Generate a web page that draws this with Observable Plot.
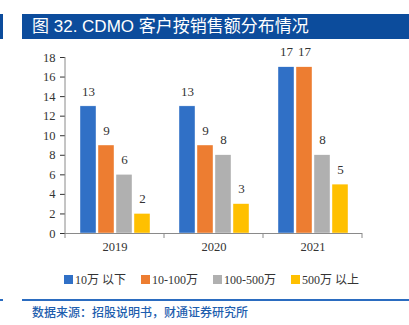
<!DOCTYPE html>
<html><head><meta charset="utf-8">
<script src="https://cdn.jsdelivr.net/npm/d3@7"></script>
<script src="https://cdn.jsdelivr.net/npm/@observablehq/plot@0.6"></script>
<style>
html,body{margin:0;padding:0;background:#fff;}
#wrap{position:relative;width:409px;height:325px;overflow:hidden;}
.blue{position:absolute;background:#0C4C9C;}
#title{position:absolute;left:22px;top:14px;width:387px;height:25px;background:#0C4C9C;color:#fff;
 font-family:"Liberation Sans",Arial,"Noto Sans CJK SC",sans-serif;font-size:17px;line-height:25px;padding-left:10px;box-sizing:border-box;white-space:nowrap;}
#chart{position:absolute;left:0;top:45px;}
#legend{position:absolute;left:64px;top:270px;display:flex;align-items:center;font-family:"Liberation Serif","Times New Roman","Noto Sans CJK SC",serif;font-size:12px;color:#333;white-space:nowrap;}
#legend .item{display:flex;align-items:center;margin-right:15px;}
#legend .sw{width:9px;height:9px;margin-right:2px;}
#source{position:absolute;left:32px;top:303px;font-family:"Noto Sans CJK SC",sans-serif;font-size:12px;color:#1E5EAE;font-weight:500;white-space:nowrap;}
</style>
</head><body>
<div id="wrap">
 <div class="blue" style="left:0;top:14px;width:3px;height:25px;"></div>
 <div id="title">图 32. CDMO 客户按销售额分布情况</div>
 <div id="chart"></div>
 <div id="legend"></div>
 <div class="blue" style="left:0;top:299px;width:3px;height:1.5px;background:#2B6CC0;"></div>
 <div class="blue" style="left:22px;top:299px;width:387px;height:1.5px;background:#2B6CC0;"></div>
 <div id="source">数据来源：招股说明书，财通证券研究所</div>
</div>
<script>
const years = ["2019", "2020", "2021"];
const series = ["10万 以下", "10-100万", "100-500万", "500万 以上"];
const colors = ["#3070C6", "#ED7D31", "#B0B0B0", "#FFC000"];
const vUnder10 = [13, 13, 17];
const v10to100 = [9, 9, 17];
const v100to500 = [6, 8, 8];
const vOver500 = [2, 3, 5];
const yTicks = [0, 2, 4, 6, 8, 10, 12, 14, 16, 18];

const seriesValues = [vUnder10, v10to100, v100to500, vOver500];
const data = [];
years.forEach((yr, i) => series.forEach((s, j) => data.push({year: yr, series: s, value: seriesValues[j][i]})));

const plot = Plot.plot({
  width: 409, height: 215,
  marginLeft: 64, marginRight: 46, marginTop: 12, marginBottom: 27,
  style: {fontFamily: '"Liberation Serif","Times New Roman",serif', fontSize: "12.5px", color: "#333", background: "transparent"},
  fx: {domain: years, padding: 0, label: null, tickSize: 0, tickPadding: 9},
  x: {domain: series, paddingInner: 0.12, paddingOuter: 0.78, axis: null},
  y: {domain: [0, 18], ticks: yTicks, label: null, tickSize: 5, tickPadding: 5},
  color: {domain: series, range: colors},
  marks: [
    Plot.barY(data, {fx: "year", x: "series", y: "value", fill: "series", stroke: "#fff", strokeWidth: 0.4}),
    Plot.text(data, {fx: "year", x: "series", y: "value", text: d => String(d.value), dy: -15, fontSize: 13, fill: "#333"}),
    Plot.ruleY([0], {stroke: "#8a8a8a", strokeWidth: 1.2})
  ]
});
document.getElementById("chart").appendChild(plot);

// axis line and category boundary ticks from the scales
const fx = plot.scale("fx");
const ys = plot.scale("y");
const svg = d3.select(plot);
const g = svg.append("g").attr("stroke", "#8a8a8a").attr("stroke-width", 1);
const x0 = fx.apply(years[0]);
g.append("line").attr("x1", x0).attr("x2", x0).attr("y1", ys.apply(18)).attr("y2", ys.apply(0));
const edges = years.map(y => fx.apply(y)).concat([fx.apply(years[years.length - 1]) + fx.bandwidth]);
edges.forEach(e => g.append("line").attr("x1", e).attr("x2", e).attr("y1", ys.apply(0)).attr("y2", ys.apply(0) + 5));

const legend = document.getElementById("legend");
series.forEach((s, i) => {
  const it = document.createElement("div"); it.className = "item";
  const sw = document.createElement("div"); sw.className = "sw"; sw.style.background = colors[i];
  const t = document.createElement("span"); t.textContent = s;
  it.appendChild(sw); it.appendChild(t); legend.appendChild(it);
});
</script>
</body></html>
